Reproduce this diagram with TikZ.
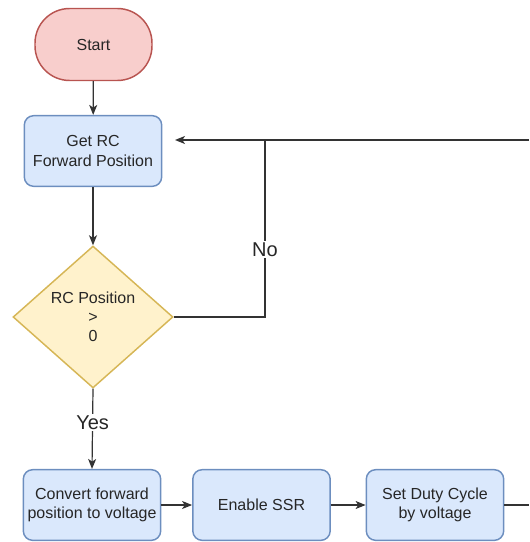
\documentclass[tikz,border=0pt]{standalone}
\usepackage{fontspec}
\setmainfont{Liberation Sans}
\usepackage{tikz}
\usetikzlibrary{arrows.meta}
\usetikzlibrary{shapes.geometric}
\usetikzlibrary{positioning}
\definecolor{startfill}{HTML}{F8CECC}
\definecolor{startline}{HTML}{B85450}
\definecolor{procfill}{HTML}{DAE8FC}
\definecolor{procline}{HTML}{6C8EBF}
\definecolor{decfill}{HTML}{FFF2CC}
\definecolor{decline}{HTML}{D6B656}
\tikzset{>={Stealth[length=7.5pt, width=6pt, inset=2pt]}}
\tikzset{flow/.style = {line width=0.9pt, draw=black!80}}
\tikzset{startstop/.style = {draw=startline, fill=startfill, line width=1.1pt,
                             rounded corners=26pt, minimum width=87.75pt, minimum height=54pt}}
\tikzset{process/.style = {draw=procline, fill=procfill, line width=1.1pt, rounded corners=7pt,
                           minimum width=103pt, minimum height=53pt, align=center, inner sep=0}}
\tikzset{decision/.style = {diamond, draw=decline, fill=decfill, line width=1.1pt,
                            minimum width=120pt, minimum height=106.5pt, aspect=1.13,
                            inner sep=0, align=center}}
\tikzset{lbl/.style = {fill=white, font=\fontsize{15}{18}\selectfont, inner sep=1pt}}

\begin{document}
\begin{tikzpicture}[x=0.75pt, y=-0.75pt, font=\fontsize{12}{14.4}\selectfont, text=black!85]
    \useasboundingbox (0, 0) rectangle (529, 542);

    \node [startstop] (start) at (93.5, 44.5) {Start};
    \node [process] (getrc) at (93, 151) {Get RC\\Forward Position};
    \node [decision] (test) at (93, 317) {RC Position\\>\\0};
    \node [process] (convert) at (92, 505) {Convert forward\\position to voltage};
    \node [process] (enable) at (261.5, 505) {Enable SSR};
    \node [process] (duty) at (435, 505) {Set Duty Cycle\\by voltage};

    \coordinate (loopin) at (529, 140);
    \coordinate (join) at (265, 140);
    \coordinate (tip) at (175, 140);
    \coordinate (outend) at (529, 505);

    \draw [flow, ->] (start) -- (getrc);
    \draw [flow, ->] (getrc) -- (test);
    \draw [flow, ->] (loopin) -- (tip);
    \draw [flow] (test.east) -| (join)
        node [lbl, pos=0.69] (no) {No};
    \draw [flow, ->] (test.south) -- (convert.north)
        node [lbl, pos=0.42] (yes) {Yes};
    \draw [flow, ->] (convert) -- (enable);
    \draw [flow, ->] (enable) -- (duty);
    \draw [flow] (duty) -- (outend);
  \end{tikzpicture}
\end{document}
